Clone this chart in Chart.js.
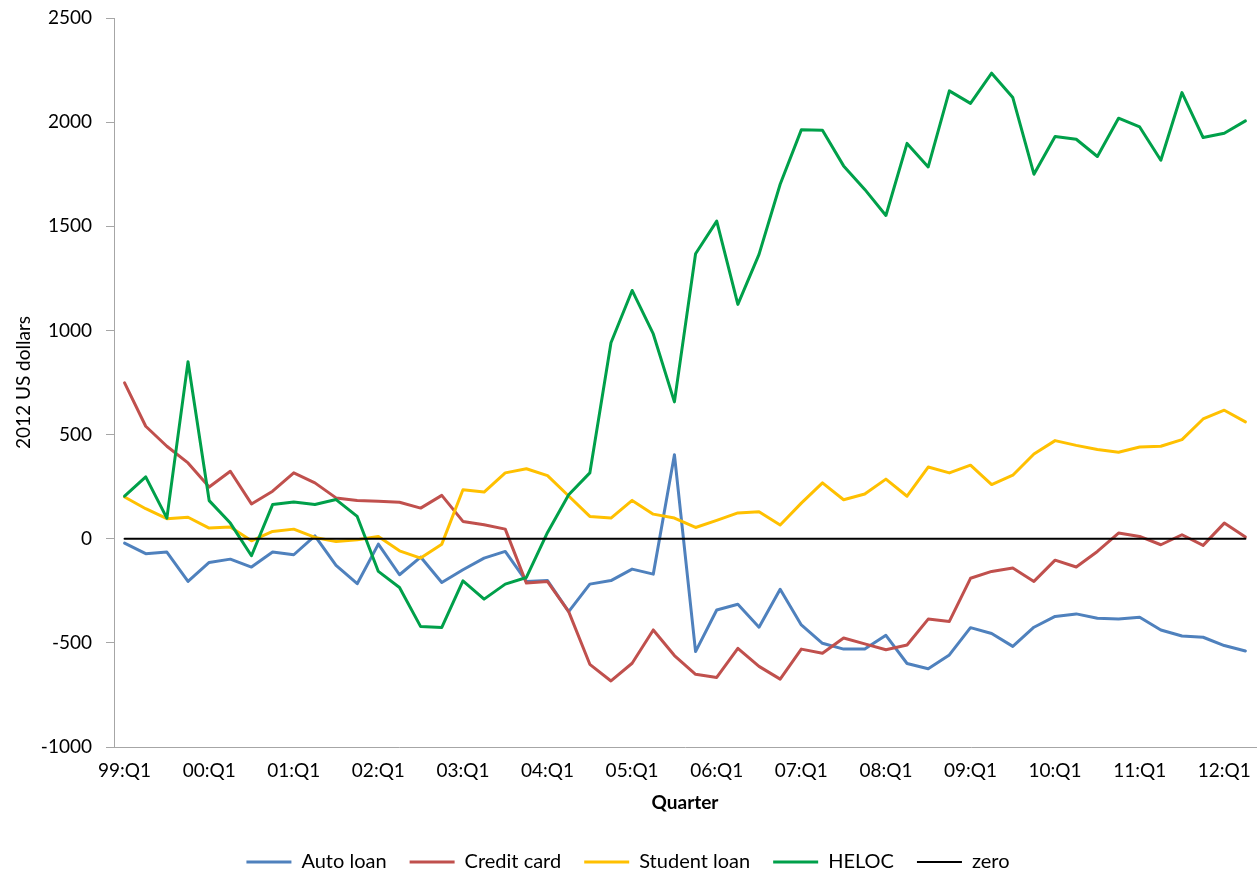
<!DOCTYPE html>
<html>
<head>
<meta charset="utf-8">
<title>Debt by type</title>
<script src="https://cdn.jsdelivr.net/npm/chart.js@4.4.0/dist/chart.umd.min.js"></script>
<style>
  body { margin: 0; background: #fff; }
  #wrap { width: 1260px; height: 878px; }
</style>
</head>
<body>
<div id="wrap"><canvas id="debtChart"></canvas></div>
<script>
// quarters 99:Q1 .. 12:Q2
const quarters = [
  '99:Q1','99:Q2','99:Q3','99:Q4','00:Q1','00:Q2','00:Q3','00:Q4',
  '01:Q1','01:Q2','01:Q3','01:Q4','02:Q1','02:Q2','02:Q3','02:Q4',
  '03:Q1','03:Q2','03:Q3','03:Q4','04:Q1','04:Q2','04:Q3','04:Q4',
  '05:Q1','05:Q2','05:Q3','05:Q4','06:Q1','06:Q2','06:Q3','06:Q4',
  '07:Q1','07:Q2','07:Q3','07:Q4','08:Q1','08:Q2','08:Q3','08:Q4',
  '09:Q1','09:Q2','09:Q3','09:Q4','10:Q1','10:Q2','10:Q3','10:Q4',
  '11:Q1','11:Q2','11:Q3','11:Q4','12:Q1','12:Q2'
];

const autoLoan = [
  -21, -72, -64, -205, -114, -98, -136, -64, -77, 14, -128, -216, -26, -173, -88,
  -210, -149, -93, -61, -205, -201, -350, -218, -201, -146, -170, 403, -542,
  -342, -315, -425, -243, -414, -502, -530, -530, -464, -599, -624, -558, -427, -455, -517,
  -425, -373, -361, -382, -385, -377, -438, -467, -473, -513, -539
];

const creditCard = [
  748, 540, 444, 364, 248, 324, 167, 228, 316, 268, 196, 183, 180, 175, 147,
  208, 83, 67, 46, -213, -206, -350, -603, -683, -598, -438, -561, -651,
  -666, -526, -613, -674, -530, -550, -477, -505, -533, -510, -386, -397, -190, -157, -141,
  -205, -103, -136, -61, 27, 11, -29, 19, -32, 75, 8
];

const studentLoan = [
  200, 144, 96, 103, 51, 56, -10, 35, 46, 6, -13, -5, 11, -58, -93,
  -26, 235, 224, 316, 336, 303, 205, 107, 99, 184, 118, 99, 54,
  88, 124, 129, 66, 171, 268, 187, 215, 286, 204, 344, 316, 353, 260, 305,
  407, 471, 448, 428, 415, 440, 444, 476, 575, 617, 561
];

const heloc = [
  204, 297, 99, 850, 183, 75, -82, 164, 176, 164, 188, 107, -157, -234, -422,
  -426, -202, -290, -218, -186, 30, 211, 316, 941, 1192, 983, 657, 1368,
  1525, 1125, 1365, 1702, 1963, 1961, 1790, 1677, 1552, 1898, 1785, 2150, 2090, 2235, 2118,
  1750, 1931, 1918, 1835, 2019, 1977, 1817, 2142, 1926, 1947, 2006
];

const zeroLine = quarters.map(() => 0);

const yTicks = { min: -1000, max: 2500, step: 500 };

Chart.defaults.font.family = 'Lato';
Chart.defaults.font.size = 19;
Chart.defaults.color = '#000';

function series(label, data, color, order, width) {
  return {
    label: label,
    data: data,
    borderColor: color,
    backgroundColor: color,
    borderWidth: width || 3,
    pointRadius: 0,
    pointHoverRadius: 0,
    tension: 0,
    borderJoinStyle: 'round',
    borderCapStyle: 'round',
    fill: false,
    order: order
  };
}

const axisGrey = '#a6a6a6';

const ctx = document.getElementById('debtChart').getContext('2d');
const chart = new Chart(ctx, {
  type: 'line',
  data: {
    labels: quarters,
    datasets: [
      series('Auto loan', autoLoan, '#4f81bd', 4),
      series('Credit card', creditCard, '#c0504d', 3),
      series('Student loan', studentLoan, '#ffc000', 2),
      series('HELOC', heloc, '#00a04a', 1),
      series('zero', zeroLine, '#000000', 0, 2)
    ]
  },
  options: {
    responsive: true,
    maintainAspectRatio: false,
    animation: false,
    layout: { padding: { top: 18, right: 4, left: 0, bottom: -4 } },
    plugins: {
      tooltip: { enabled: false },
      legend: {
        position: 'bottom',
        labels: {
          usePointStyle: true,
          pointStyle: 'line',
          pointStyleWidth: 45,
          boxWidth: 45,
          padding: 23,
          color: '#000',
          font: { size: 20 },
          sort: (a, b) => a.datasetIndex - b.datasetIndex
        }
      }
    },
    scales: {
      x: {
        type: 'category',
        offset: true,
        grid: { drawOnChartArea: false, drawTicks: false, color: axisGrey },
        border: { color: axisGrey, width: 1 },
        ticks: {
          autoSkip: false,
          maxRotation: 0,
          padding: 12,
          callback: function (value) {
            const lab = this.getLabelForValue(value);
            return lab.endsWith('Q1') ? lab : '';
          }
        },
        title: {
          display: true,
          text: 'Quarter',
          font: { size: 19, weight: 'bold' },
          padding: { top: 4, bottom: 15 }
        },
        afterFit: (scale) => { scale.height = 82; }
      },
      y: {
        min: yTicks.min,
        max: yTicks.max,
        grid: { drawOnChartArea: false, drawTicks: true, tickLength: 8, color: axisGrey },
        border: { color: axisGrey, width: 1 },
        ticks: {
          stepSize: yTicks.step,
          padding: 14,
          callback: (value) => String(value)
        },
        title: {
          display: true,
          text: '2012 US dollars',
          font: { size: 19 },
          padding: { top: 12, bottom: 4 }
        },
        afterFit: (scale) => {
          scale.width = 114;
          scale.paddingTop = 0;
          scale.paddingBottom = 0;
        }
      }
    }
  }
});
</script>
</body>
</html>
